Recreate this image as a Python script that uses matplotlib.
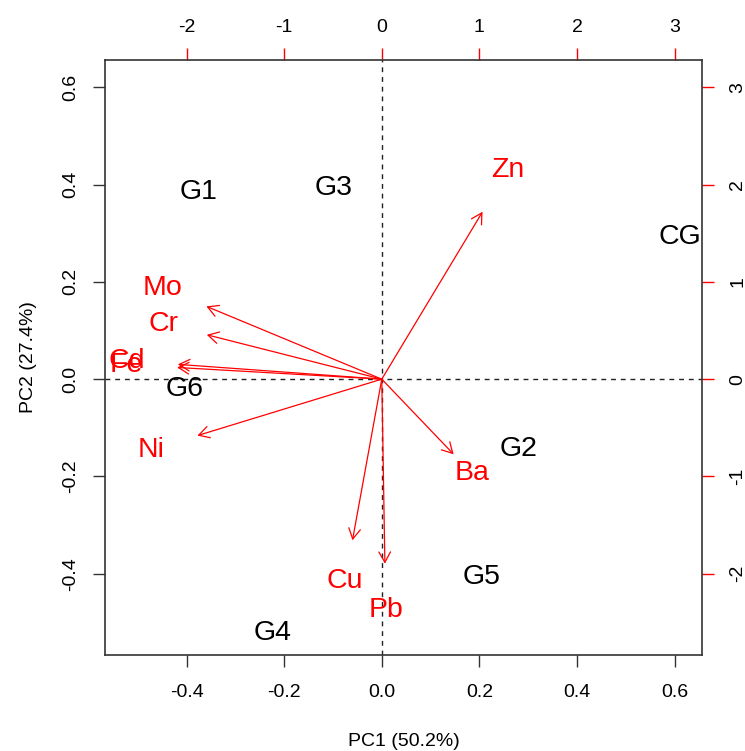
import numpy as np
import matplotlib
matplotlib.use('Agg')
import matplotlib.pyplot as plt

plt.rcParams['font.family'] = ['Liberation Sans', 'DejaVu Sans']

########

# PCA scores (PC1, PC2) of the sites
sites = ['G1', 'G3', 'CG', 'G6', 'G2', 'G5', 'G4']
pc1_scores = [-0.375, -0.098, 0.611, -0.403, 0.281, 0.204, -0.223]
pc2_scores = [0.384, 0.392, 0.292, -0.020, -0.144, -0.407, -0.522]

# loadings of the elements (top / right axis units)
elements = ['Zn', 'Mo', 'Cr', 'Cd', 'Fe', 'Ni', 'Ba', 'Cu', 'Pb']
pc1_load = [1.29, -2.245, -2.24, -2.61, -2.62, -2.36, 0.92, -0.375, 0.04]
pc2_load = [2.15, 0.935, 0.57, 0.19, 0.15, -0.725, -0.965, -2.07, -2.37]

top_ticks = [-2, -1, 0, 1, 2, 3]
right_ticks = [-2, -1, 0, 1, 2, 3]
bottom_ticks = [-0.4, -0.2, 0.0, 0.2, 0.4, 0.6]
left_ticks = [-0.4, -0.2, 0.0, 0.2, 0.4, 0.6]

ratio = 5.0
lims = (-0.567, 0.656)

########

fig = plt.figure(figsize=(7.45, 7.51), dpi=100)
ax = fig.add_axes([105/745, 96/751, 597/745, 595/751])
ax.set_xlim(lims)
ax.set_ylim(lims)

for s in ax.spines.values():
    s.set_color('#333333')
    s.set_linewidth(1.2)

ax.axhline(0, color='#222222', lw=1, ls=(0, (3.5, 3.5)))
ax.axvline(0, color='#222222', lw=1, ls=(0, (3.5, 3.5)))

# sites
for name, x, y in zip(sites, pc1_scores, pc2_scores):
    ax.text(x, y, name, fontsize=20.5, ha='center', va='center', color='black')

# element arrows and labels
for name, lx, ly in zip(elements, pc1_load, pc2_load):
    x = lx / ratio
    y = ly / ratio
    ax.annotate('', xy=(0.8*x, 0.8*y), xytext=(0, 0),
                arrowprops=dict(arrowstyle='->,head_length=0.75,head_width=0.42',
                                color='red', lw=0.9, shrinkA=0, shrinkB=0))
    ax.text(x, y, name, fontsize=20.5, ha='center', va='center', color='red')

ax.set_xticks(bottom_ticks)
ax.set_xticklabels(['-0.4', '-0.2', '0.0', '0.2', '0.4', '0.6'])
ax.set_yticks(left_ticks)
ax.set_yticklabels(['-0.4', '-0.2', '0.0', '0.2', '0.4', '0.6'], rotation=90, va='center')
ax.tick_params(axis='x', length=8.6, width=1, color='#333333', labelsize=14, pad=12)
ax.tick_params(axis='y', length=8.6, width=1, color='#333333', labelsize=14, pad=10)

ax.set_xlabel('PC1 (50.2%)', fontsize=14, labelpad=23)
ax.set_ylabel('PC2 (27.4%)', fontsize=14, labelpad=18)

top = ax.secondary_xaxis('top', functions=(lambda v: v*ratio, lambda v: v/ratio))
top.set_xticks(top_ticks)
top.set_xticklabels([str(t) for t in top_ticks])
top.tick_params(length=8.6, width=1, color='red', labelsize=14, pad=9)
top.spines['top'].set_visible(False)

right = ax.secondary_yaxis('right', functions=(lambda v: v*ratio, lambda v: v/ratio))
right.set_yticks(right_ticks)
right.set_yticklabels([str(t) for t in right_ticks], rotation=90, va='center')
right.tick_params(length=8.6, width=1, color='red', labelsize=14, pad=11)
right.spines['right'].set_visible(False)

plt.savefig('out.png', dpi=100)
